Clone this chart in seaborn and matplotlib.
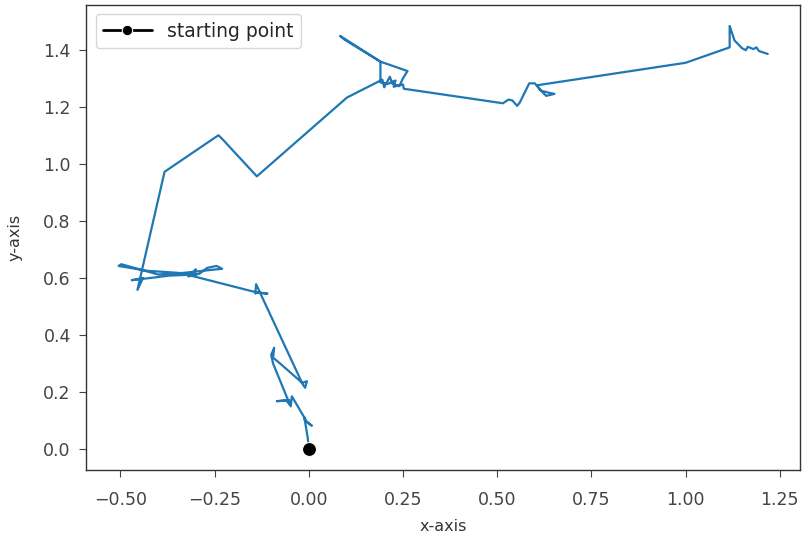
import matplotlib
matplotlib.use("Agg")
import matplotlib.pyplot as plt
import seaborn as sns
import pandas as pd

# Path of the walk (x, y), in order
walk_x = [0.000, -0.003, -0.012, -0.010, 0.008, -0.005, -0.045, -0.048, -0.052, -0.085,
          -0.060, -0.050, -0.095, -0.100, -0.092, -0.095, -0.085, -0.020, -0.010, -0.005,
          -0.018,
          -0.140, -0.142, -0.138, -0.110, -0.135,
          -0.310, -0.300, -0.320, -0.290, -0.270, -0.245, -0.230, -0.260, -0.330, -0.400,
          -0.498, -0.505, -0.430, -0.350, -0.300, -0.370, -0.470, -0.440, -0.455,
          -0.383, -0.240, -0.232, -0.138, 0.101, 0.195, 0.200, 0.215, 0.222, 0.240,
          0.250, 0.262, 0.190, 0.088, 0.083, 0.095, 0.190, 0.190, 0.210, 0.230,
          0.225, 0.250, 0.252,
          0.500, 0.515, 0.530, 0.540, 0.553, 0.560, 0.585, 0.600, 0.617, 0.640,
          0.652, 0.630, 0.612, 0.605, 1.000, 1.117, 1.117, 1.130, 1.150, 1.160,
          1.165, 1.180, 1.188, 1.195, 1.218]
walk_y = [0.000, 0.040, 0.112, 0.100, 0.082, 0.095, 0.185, 0.150, 0.172, 0.168,
          0.170, 0.155, 0.300, 0.330, 0.355, 0.320, 0.310, 0.235, 0.215, 0.238,
          0.232,
          0.578, 0.545, 0.550, 0.545, 0.548,
          0.607, 0.630, 0.605, 0.615, 0.635, 0.642, 0.632, 0.628, 0.618, 0.612,
          0.648, 0.642, 0.625, 0.618, 0.612, 0.608, 0.592, 0.600, 0.558,
          0.972, 1.100, 1.090, 0.956, 1.232, 1.295, 1.268, 1.305, 1.280, 1.272,
          1.300, 1.325, 1.358, 1.444, 1.448, 1.435, 1.358, 1.285, 1.280, 1.292,
          1.270, 1.278, 1.263,
          1.215, 1.212, 1.225, 1.222, 1.203, 1.215, 1.282, 1.282, 1.256, 1.248,
          1.245, 1.238, 1.262, 1.275, 1.354, 1.408, 1.483, 1.432, 1.405, 1.398,
          1.410, 1.402, 1.408, 1.395, 1.385]

start_x = [0.0]
start_y = [0.0]
start_label = "starting point"
x_label = "x-axis"
y_label = "y-axis"
x_ticks = [-0.5, -0.25, 0.0, 0.25, 0.5, 0.75, 1.0, 1.25]
x_tick_labels = ["−0.50", "−0.25", "0.00", "0.25", "0.50", "0.75", "1.00", "1.25"]
y_ticks = [0.0, 0.2, 0.4, 0.6, 0.8, 1.0, 1.2, 1.4]

sns.set_style("ticks")
plt.rcParams['font.family'] = ['DejaVu Sans']

fig, ax = plt.subplots(figsize=(8.05, 5.35), dpi=100)
fig.subplots_adjust(left=0.107, right=0.994, top=0.991, bottom=0.121)

df = pd.DataFrame({"x": walk_x, "y": walk_y, "step": range(len(walk_x))})
sns.lineplot(data=df, x="x", y="y", sort=False, estimator=None, ax=ax,
             color="#1f77b4", linewidth=1.6)

sdf = pd.DataFrame({"x": start_x, "y": start_y})
sns.lineplot(data=sdf, x="x", y="y", ax=ax, color="black", marker="o",
             markersize=10, linewidth=2, label=start_label, estimator=None)

ax.set_xlabel(x_label, fontsize=11.5, color="#333333", labelpad=7)
ax.set_ylabel(y_label, fontsize=11.5, color="#333333", labelpad=15)
ax.set_xticks(x_ticks)
ax.set_xticklabels(x_tick_labels)
ax.set_yticks(y_ticks)
ax.tick_params(labelsize=12.5, colors="#444444", length=5)
ax.tick_params(axis="x", pad=10)
ax.tick_params(axis="y", pad=6)
for s in ax.spines.values():
    s.set_visible(True)
    s.set_color("#333333")
    s.set_linewidth(1.0)

leg = ax.legend(loc="upper left", fontsize=13.5, markerscale=0.75, frameon=True,
                handlelength=2.6)
leg.get_frame().set_edgecolor("#cccccc")

fig.savefig("out.png", dpi=100)
